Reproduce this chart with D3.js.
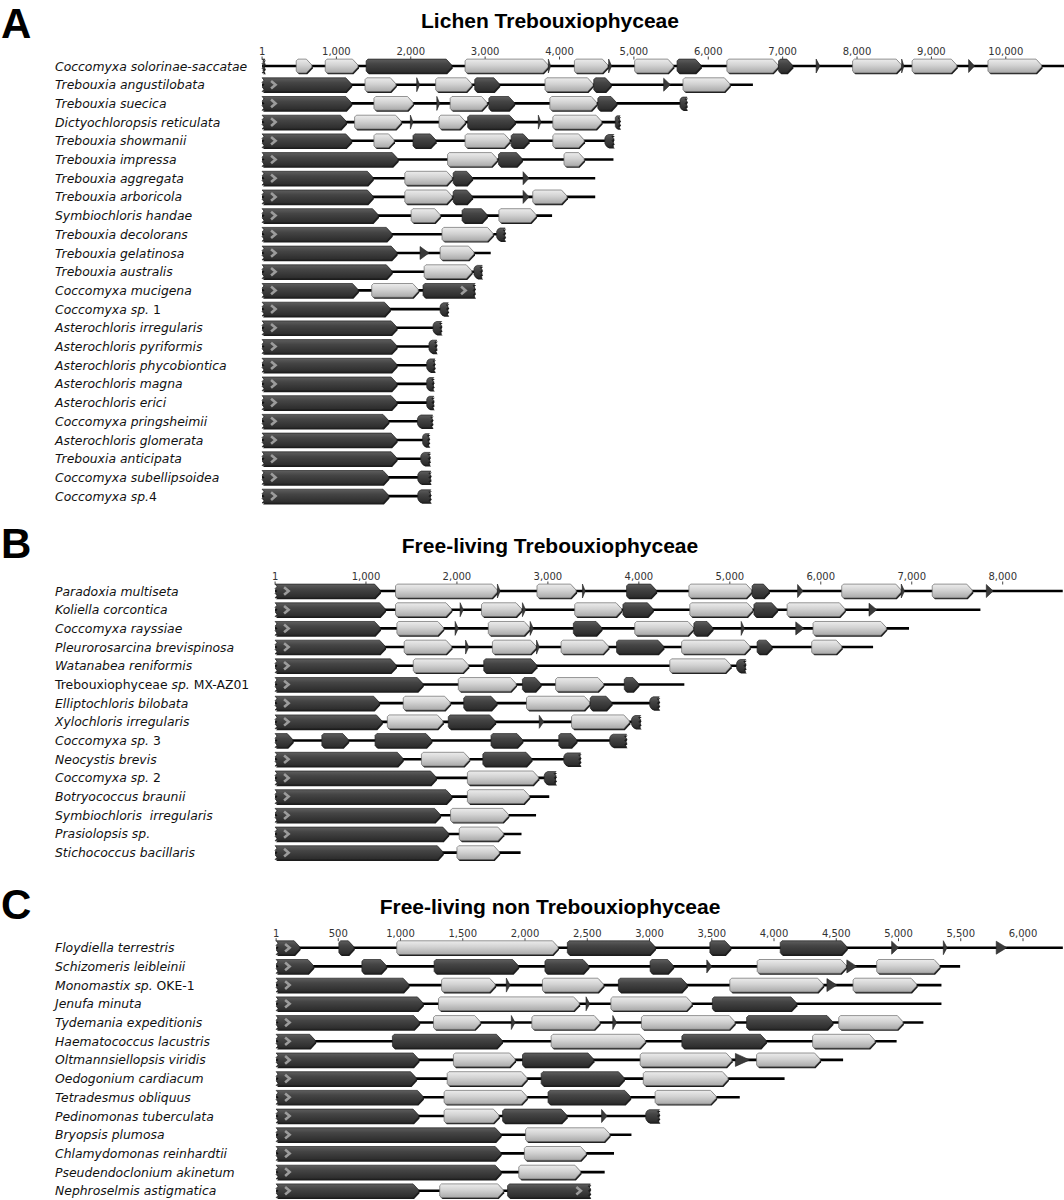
<!DOCTYPE html>
<html><head><meta charset="utf-8">
<script src="https://cdn.jsdelivr.net/npm/d3@7"></script>
<style>body{margin:0;background:#fff}svg{display:block}text{white-space:pre}</style>
</head><body>
<svg id="chart" width="1064" height="1200"></svg>
<script>
// ---------- DATA ----------
// gene types: F first (jagged left + chevron), D dark, L light, T triangle/tRNA,
// C end cap, E last dark (jagged right + chevron), J dark jagged left, S start stub
const titleA = "Lichen Trebouxiophyceae";
const speciesA = ["Coccomyxa solorinae-saccatae","Trebouxia angustilobata","Trebouxia suecica","Dictyochloropsis reticulata","Trebouxia showmanii","Trebouxia impressa","Trebouxia aggregata","Trebouxia arboricola","Symbiochloris handae","Trebouxia decolorans","Trebouxia gelatinosa","Trebouxia australis","Coccomyxa mucigena","Coccomyxa sp.~ 1","Asterochloris irregularis","Asterochloris pyriformis","Asterochloris phycobiontica","Asterochloris magna","Asterochloris erici","Coccomyxa pringsheimii","Asterochloris glomerata","Trebouxia anticipata","Coccomyxa subellipsoidea","Coccomyxa sp.~4"];
const endsA = [10790,6600,5715,4815,4730,4725,4480,4480,3900,3270,3075,2960,2865,2505,2415,2350,2325,2310,2310,2295,2250,2260,2270,2270];
const ticksA = [1,1000,2000,3000,4000,5000,6000,7000,8000,9000,10000];
const genesA = [
 [[1,40,"S"],[460,670,"L"],[850,1290,"L"],[1400,2550,"D"],[2730,3850,"L"],[3850,3880,"T"],[4200,4650,"L"],[4660,4700,"T"],[5010,5530,"L"],[5580,5900,"D"],[6250,6940,"L"],[6945,7130,"D"],[7450,7500,"T"],[7940,8600,"L"],[8600,8630,"T"],[8740,9340,"L"],[9500,9580,"T"],[9760,10480,"L"]],
 [[1,1200,"F"],[1385,1800,"L"],[2080,2120,"T"],[2335,2820,"L"],[2860,3190,"D"],[3805,4450,"L"],[4460,4690,"D"],[5400,5490,"T"],[5660,6290,"L"]],
 [[1,1200,"F"],[1505,2030,"L"],[2350,2390,"T"],[2530,3025,"L"],[3050,3390,"D"],[3870,4500,"L"],[4515,4765,"D"],[5620,5715,"C"]],
 [[1,1130,"F"],[1245,1870,"L"],[1995,2030,"T"],[2380,2730,"L"],[2765,3400,"D"],[3715,3750,"T"],[3910,4565,"L"],[4750,4815,"C"]],
 [[1,1200,"F"],[1505,1775,"L"],[2030,2335,"D"],[2730,3330,"L"],[3350,3585,"D"],[3910,4330,"L"],[4610,4730,"C"]],
 [[1,1825,"F"],[2495,3160,"L"],[3180,3495,"D"],[4060,4330,"L"]],
 [[1,1490,"F"],[1920,2555,"L"],[2570,2825,"D"],[3510,3590,"T"]],
 [[1,1490,"F"],[1920,2555,"L"],[2570,2825,"D"],[3510,3590,"T"],[3640,4100,"L"]],
 [[1,1560,"F"],[2005,2395,"L"],[2690,3025,"D"],[3185,3685,"L"]],
 [[1,1745,"F"],[2420,3105,"L"],[3155,3270,"C"]],
 [[1,1810,"F"],[2125,2245,"T"],[2395,2850,"L"]],
 [[1,1745,"F"],[2180,2820,"L"],[2850,2960,"C"]],
 [[1,1290,"F"],[1475,2100,"L"],[2165,2865,"E"]],
 [[1,1720,"F"],[2395,2505,"C"]],
 [[1,1810,"F"],[2300,2415,"C"]],
 [[1,1810,"F"],[2245,2350,"C"]],
 [[1,1810,"F"],[2215,2325,"C"]],
 [[1,1810,"F"],[2215,2310,"C"]],
 [[1,1810,"F"],[2215,2310,"C"]],
 [[1,1700,"F"],[2090,2295,"C"]],
 [[1,1810,"F"],[2160,2250,"C"]],
 [[1,1810,"F"],[2135,2260,"C"]],
 [[1,1700,"F"],[2095,2270,"C"]],
 [[1,1700,"F"],[2095,2270,"C"]]
];

const titleB = "Free-living Trebouxiophyceae";
const speciesB = ["Paradoxia multiseta","Koliella corcontica","Coccomyxa rayssiae","Pleurorosarcina brevispinosa","Watanabea reniformis","~Trebouxiophyceae ~sp.~ MX-AZ01","Elliptochloris bilobata","Xylochloris irregularis","Coccomyxa sp.~ 3","Neocystis brevis","Coccomyxa sp.~ 2","Botryococcus braunii","Symbiochloris  irregularis","Prasiolopsis sp.","Stichococcus bacillaris"];
const endsB = [8660,7755,6970,6575,5175,4500,4225,4020,3865,3360,3090,3015,2870,2710,2700];
const ticksB = [1,1000,2000,3000,4000,5000,6000,7000,8000];
const genesB = [
 [[1,1155,"F"],[1325,2445,"L"],[2445,2475,"T"],[2880,3310,"L"],[3380,3410,"T"],[3865,4190,"D"],[4550,5240,"L"],[5245,5430,"D"],[5745,5805,"T"],[6230,6885,"L"],[6885,6920,"T"],[7225,7665,"L"],[7820,7895,"T"]],
 [[1,1210,"F"],[1325,1940,"L"],[2035,2070,"T"],[2270,2710,"L"],[2720,2755,"T"],[3295,3810,"L"],[3825,4155,"D"],[4560,5250,"L"],[5265,5520,"D"],[5630,6265,"L"],[6530,6615,"T"]],
 [[1,1155,"F"],[1340,1850,"L"],[1980,2015,"T"],[2345,2800,"L"],[2805,2840,"T"],[3280,3590,"D"],[3955,4600,"L"],[4605,4810,"D"],[5125,5160,"T"],[5725,5815,"T"],[5915,6720,"L"]],
 [[1,1210,"F"],[1420,1940,"L"],[2095,2130,"T"],[2390,2870,"L"],[2875,2905,"T"],[3145,3665,"L"],[3755,4270,"D"],[4470,5220,"L"],[5300,5460,"D"],[5900,6230,"L"]],
 [[1,1330,"F"],[1520,2125,"L"],[2295,2875,"D"],[4340,5010,"L"],[5075,5175,"C"]],
 [[1,1625,"F"],[2015,2650,"L"],[2720,2920,"D"],[3085,3610,"L"],[3840,3995,"D"]],
 [[1,1145,"F"],[1410,1925,"L"],[2075,2435,"D"],[2765,3460,"L"],[3465,3700,"D"],[4120,4225,"C"]],
 [[1,1175,"F"],[1235,1845,"L"],[1905,2420,"D"],[2905,2955,"T"],[3260,3895,"L"],[3920,4020,"C"]],
 [[1,195,"J"],[515,805,"D"],[1100,1720,"D"],[2375,2720,"D"],[3120,3315,"D"],[3680,3865,"C"]],
 [[1,1405,"F"],[1610,2135,"L"],[2285,2820,"D"],[3175,3360,"C"]],
 [[1,1770,"F"],[2115,2895,"L"],[2960,3090,"C"]],
 [[1,1940,"F"],[2115,2795,"L"]],
 [[1,1815,"F"],[1930,2565,"L"]],
 [[1,1905,"F"],[2025,2510,"L"]],
 [[1,1845,"F"],[2000,2465,"L"]]
];

const titleC = "Free-living non Trebouxiophyceae";
const speciesC = ["Floydiella terrestris","Schizomeris leibleinii","Monomastix sp.~ OKE-1","Jenufa minuta","Tydemania expeditionis","Haematococcus lacustris","Oltmannsiellopsis viridis","Oedogonium cardiacum","Tetradesmus obliquus","Pedinomonas tuberculata","Bryopsis plumosa","Chlamydomonas reinhardtii","Pseudendoclonium akinetum","Nephroselmis astigmatica"];
const endsC = [6320,5495,5345,5345,5200,4985,4555,4085,3725,3080,2855,2715,2640,2525];
const ticksC = [1,500,1000,1500,2000,2500,3000,3500,4000,4500,5000,5500,6000];
const genesC = [
 [[1,190,"F"],[505,625,"D"],[970,2265,"L"],[2340,3045,"D"],[3485,3650,"D"],[4050,4585,"D"],[4945,5000,"T"],[5360,5390,"T"],[5785,5870,"T"]],
 [[1,300,"F"],[690,885,"D"],[1270,1945,"D"],[2160,2510,"D"],[3005,3190,"D"],[3460,3500,"T"],[3865,4580,"L"],[4585,4665,"T"],[4825,5330,"L"]],
 [[1,1065,"F"],[1330,1760,"L"],[1850,1880,"T"],[2140,2630,"L"],[2750,3300,"D"],[3645,4395,"L"],[4425,4505,"T"],[4635,5145,"L"]],
 [[1,1180,"F"],[1305,2435,"L"],[2490,2520,"T"],[2690,3340,"L"],[3505,4180,"D"]],
 [[1,1150,"F"],[1265,1640,"L"],[1890,1920,"T"],[2055,2600,"L"],[2705,2735,"T"],[2935,3685,"L"],[3780,4470,"D"],[4520,5035,"L"]],
 [[1,315,"F"],[935,1815,"D"],[2210,2965,"L"],[3260,3935,"D"],[4310,4810,"L"]],
 [[1,1145,"F"],[1425,1920,"L"],[1980,2550,"D"],[2925,3660,"L"],[3690,3805,"T"],[3860,4370,"L"]],
 [[1,1125,"F"],[1375,2015,"L"],[2130,2795,"D"],[2950,3630,"L"]],
 [[1,1180,"F"],[1350,2015,"L"],[2185,2845,"D"],[3045,3535,"L"]],
 [[1,1145,"F"],[1350,1790,"L"],[1820,2335,"D"],[2615,2660,"T"],[2970,3080,"C"]],
 [[1,1805,"F"],[2005,2680,"L"]],
 [[1,1805,"F"],[1995,2490,"L"]],
 [[1,1805,"F"],[1950,2445,"L"]],
 [[1,1145,"F"],[1315,1825,"L"],[1860,2525,"E"]]
];

// ---------- DRAW ----------
const svg = d3.select("#chart");
const defs = svg.append("defs");
function grad(id, stops){
  const g = defs.append("linearGradient").attr("id",id).attr("x1",0).attr("y1",0).attr("x2",0).attr("y2",1);
  stops.forEach(s=>g.append("stop").attr("offset",s[0]).attr("stop-color",s[1]));
}
grad("gDark",[[0,"#5e5e5e"],[0.35,"#454545"],[1,"#2b2b2b"]]);
grad("gLight",[[0,"#ececec"],[0.45,"#d2d2d2"],[1,"#a9a9a9"]]);

const line = d3.line().curve(d3.curveLinearClosed);

function zig(x, y0, y1, dx, n){
  const p=[]; for(let i=1;i<n;i++){ p.push([x+(i%2?dx:0), y0+(y1-y0)*i/n]); } return p;
}
function shapePts(x0,x1,cy,type){
  const h = (type==="C") ? 6.3 : 6.9;
  const top=cy-h, bot=cy+h, w=x1-x0, p=[];
  const tip=Math.min(5.5,w*0.45), c=Math.min(1.8,w*0.2);
  const left = (type==="F"||type==="J"||type==="S") ? "jag" : (type==="C" ? "round" : "cham");
  const right = (type==="E"||type==="C"||type==="S") ? "jag" : "point";
  const r = Math.min(3.5, w*0.4);
  if(left==="jag") p.push([x0,top]); else if(left==="round") p.push([x0+r,top]); else p.push([x0+c,top]);
  if(right==="point"){ p.push([x1-tip,top],[x1,cy-1],[x1,cy+1],[x1-tip,bot]); }
  else { p.push([x1,top]); p.push(...zig(x1,top,bot,-2,6)); p.push([x1,bot]); }
  if(left==="jag"){ p.push([x0,bot]); p.push(...zig(x0,bot,top,2,6)); }
  else if(left==="round"){ p.push([x0+r,bot],[x0+r*0.35,bot-r*0.35],[x0,bot-r],[x0,top+r],[x0+r*0.35,top+r*0.35]); }
  else { p.push([x0+c,bot],[x0,bot-c],[x0,top+c]); }
  return p;
}

function drawLabel(sel, name){
  const parts = name.split("~");
  parts.forEach((s,i)=>{ if(s.length) sel.append("tspan").attr("font-style", i%2===0 ? "italic":"normal").text(s); });
}

function panel(cfg){
  const {letter, letterY, title, titleX, titleY, species, ends, ticks, genes, domainMax, range, row0, step} = cfg;
  const x = d3.scaleLinear().domain([0, domainMax]).range(range);
  const y = d3.scalePoint().domain(species).range([row0, row0 + step*(species.length-1)]);
  const g = svg.append("g");
  g.append("text").attr("x",1).attr("y",letterY).attr("font-family","Liberation Sans, Arial, sans-serif")
    .attr("font-weight","bold").attr("font-size",42).text(letter);
  g.append("text").attr("x",titleX).attr("y",titleY).attr("text-anchor","middle")
    .attr("font-family","Liberation Sans, Arial, sans-serif").attr("font-weight","bold").attr("font-size",21).text(title);
  const tk = g.append("g");
  ticks.forEach(t=>{
    tk.append("text").attr("x",x(t)).attr("y",row0-11).attr("text-anchor","middle")
      .attr("font-family","DejaVu Sans, sans-serif").attr("font-size",10).attr("fill","#333")
      .text(d3.format(",")(t));
    tk.append("line").attr("x1",x(t)).attr("x2",x(t)).attr("y1",row0-9.5).attr("y2",row0-6.5)
      .attr("stroke","#444").attr("stroke-width",1);
  });
  species.forEach((sp,i)=>{
    const cy = y(sp);
    const lab = g.append("text").attr("x",55).attr("y",cy+4.5).attr("font-family","DejaVu Sans, sans-serif")
      .attr("font-size",12.4).attr("fill","#111");
    drawLabel(lab, sp);
    g.append("line").attr("x1",x(1)).attr("x2",x(ends[i])).attr("y1",cy).attr("y2",cy)
      .attr("stroke","#000").attr("stroke-width",2.6);
    genes[i].forEach(([s,e,t])=>{
      const x0=x(s), x1=x(e);
      if(t==="T"){
        const w=x1-x0, hh = w<4 ? 7 : 6.5;
        const p=[[x0,cy-hh],[x1,cy],[x0,cy+hh]];
        g.append("path").attr("d",line(p)).attr("fill","#3a3a3a").attr("stroke","#222").attr("stroke-width",0.6);
        return;
      }
      const pts = shapePts(x0,x1,cy,t);
      g.append("path").attr("d",line(pts.map(q=>[q[0]+1,q[1]+1.4]))).attr("fill","#1c1c1c");
      const light = t==="L";
      g.append("path").attr("d",line(pts)).attr("fill", light ? "url(#gLight)" : "url(#gDark)")
        .attr("stroke", light ? "#6a6a6a" : "#222").attr("stroke-width",0.7);
      if(t==="F"||t==="E"){
        if(x1-x0>18){
          const cx = t==="F" ? x0+9 : x1-14;
          g.append("path").attr("d",`M${cx},${cy-3.8}L${cx+4.5},${cy}L${cx},${cy+3.8}`)
            .attr("fill","none").attr("stroke","#9c9c9c").attr("stroke-width",2.6);
        }
      }
    });
  });
}

panel({letter:"A", letterY:38, title:titleA, titleX:550, titleY:28, species:speciesA, ends:endsA, ticks:ticksA, genes:genesA,
  domainMax:10000, range:[262,1005.8], row0:66, step:18.7});
panel({letter:"B", letterY:558, title:titleB, titleX:550, titleY:553, species:speciesB, ends:endsB, ticks:ticksB, genes:genesB,
  domainMax:8000, range:[275,1002.7], row0:591, step:18.69});
panel({letter:"C", letterY:919, title:titleC, titleX:550, titleY:914, species:speciesC, ends:endsC, ticks:ticksC, genes:genesC,
  domainMax:6000, range:[276,1023], row0:947.7, step:18.7});
</script>
</body></html>
